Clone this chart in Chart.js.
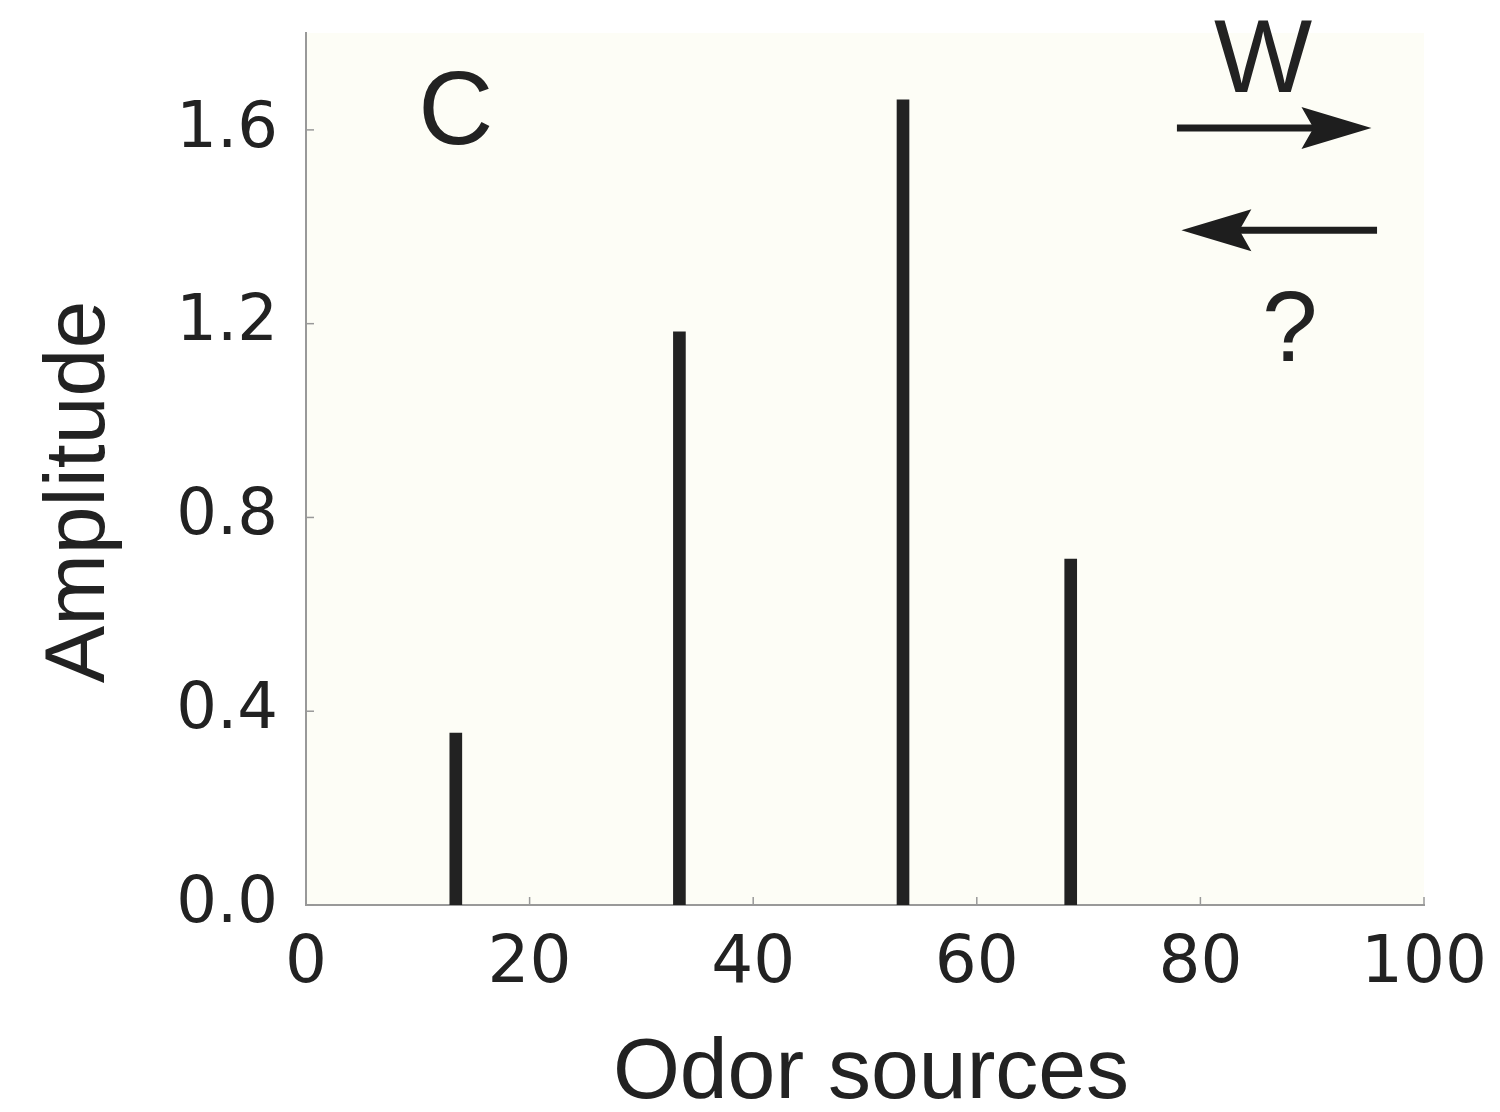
<!DOCTYPE html>
<html>
<head>
<meta charset="utf-8">
<script src="https://cdn.jsdelivr.net/npm/chart.js@4/dist/chart.umd.min.js"></script>
<style>
  html, body { margin: 0; padding: 0; background: #fff; }
  #wrap { width: 1500px; height: 1112px; position: relative; }
</style>
</head>
<body>
<div id="wrap"><canvas id="chart"></canvas></div>
<script>
// odor source positions and their amplitudes
const sources = [13.4, 33.4, 53.4, 68.4];
const amplitudes = [0.355, 1.183, 1.662, 0.714];
const xTicks = [0, 20, 40, 60, 80, 100];
const yTicks = [0, 0.4, 0.8, 1.2, 1.6];

const ink = "#222";
const sans = "'Liberation Sans', Arial, sans-serif";

function arrow(ctx, x0, x1, y, head) {
  // x1 is the tip
  const dir = Math.sign(x1 - x0);
  ctx.beginPath();
  ctx.moveTo(x0, y);
  ctx.lineTo(x1 - dir * 40, y);
  ctx.lineWidth = 7;
  ctx.stroke();
  ctx.beginPath();
  ctx.moveTo(x1, y);
  ctx.lineTo(x1 - dir * head, y - 21);
  ctx.lineTo(x1 - dir * (head - 12), y);
  ctx.lineTo(x1 - dir * head, y + 21);
  ctx.closePath();
  ctx.fill();
}

const decorations = {
  id: "decorations",
  beforeDraw(chart) {
    const { ctx, chartArea: a } = chart;
    ctx.save();
    ctx.fillStyle = "#fff";
    ctx.fillRect(0, 0, chart.width, chart.height);
    ctx.fillStyle = "#fdfdf6";
    ctx.fillRect(a.left, a.top, a.right - a.left, a.bottom - a.top);
    ctx.restore();
  },
  afterDraw(chart) {
    const { ctx, chartArea: a, scales } = chart;
    const xs = scales.x, ys = scales.y;
    ctx.save();

    // inward tick marks
    ctx.strokeStyle = "#999";
    ctx.lineWidth = 1.5;
    xTicks.forEach((v) => {
      const px = xs.getPixelForValue(v);
      ctx.beginPath();
      ctx.moveTo(px, a.bottom);
      ctx.lineTo(px, a.bottom - 8);
      ctx.stroke();
    });
    yTicks.forEach((v) => {
      const py = ys.getPixelForValue(v);
      ctx.beginPath();
      ctx.moveTo(a.left, py);
      ctx.lineTo(a.left + 8, py);
      ctx.stroke();
    });

    // axis titles
    ctx.fillStyle = ink;
    ctx.font = `86px ${sans}`;
    ctx.textAlign = "center";
    ctx.textBaseline = "alphabetic";
    ctx.fillText("Odor sources", 871, 1098);
    ctx.save();
    ctx.translate(104, 492);
    ctx.rotate(-Math.PI / 2);
    ctx.fillText("Amplitude", 0, 0);
    ctx.restore();

    // panel letter and annotation
    ctx.font = `104px ${sans}`;
    ctx.textBaseline = "middle";
    ctx.fillText("C", xs.getPixelForValue(13.4), ys.getPixelForValue(1.63));
    ctx.fillText("W", xs.getPixelForValue(85.6), ys.getPixelForValue(1.738));
    ctx.font = `100px ${sans}`;
    ctx.fillText("?", xs.getPixelForValue(88.0), ys.getPixelForValue(1.18));

    ctx.strokeStyle = "#1e1e1e";
    ctx.fillStyle = "#1e1e1e";
    arrow(ctx, xs.getPixelForValue(77.9), xs.getPixelForValue(95.3), ys.getPixelForValue(1.604), 70);
    arrow(ctx, xs.getPixelForValue(95.8), xs.getPixelForValue(78.3), ys.getPixelForValue(1.393), 70);
    ctx.restore();
  }
};

new Chart(document.getElementById("chart"), {
  type: "bar",
  data: {
    datasets: [{
      data: sources.map((s, i) => ({ x: s, y: amplitudes[i] })),
      backgroundColor: "#222",
      borderWidth: 0,
      barThickness: 12
    }]
  },
  options: {
    responsive: true,
    maintainAspectRatio: false,
    animation: false,
    layout: { padding: { left: 0, right: 76, top: 33, bottom: 0 } },
    plugins: { legend: { display: false }, tooltip: { enabled: false } },
    scales: {
      x: {
        type: "linear",
        min: 0,
        max: 100,
        offset: false,
        afterBuildTicks: (s) => { s.ticks = xTicks.map((v) => ({ value: v })); },
        afterFit: (s) => {
          s.height = 207;
          s.paddingLeft = 0;
          s.paddingRight = 0;
        },
        grid: { display: false, drawTicks: false, offset: false },
        border: { display: true, color: "#999", width: 2 },
        ticks: {
          padding: 20,
          maxRotation: 0,
          color: ink,
          font: { family: "'DejaVu Sans'", size: 66 },
          callback: (v) => String(v)
        }
      },
      y: {
        min: 0,
        max: 1.8,
        afterBuildTicks: (s) => { s.ticks = yTicks.map((v) => ({ value: v })); },
        afterFit: (s) => {
          s.width = 306;
          s.paddingTop = 0;
          s.paddingBottom = 0;
        },
        grid: { display: false, drawTicks: false },
        border: { display: true, color: "#999", width: 2 },
        ticks: {
          padding: 28,
          color: ink,
          font: { family: "'DejaVu Sans'", size: 64 },
          callback: (v) => Number(v).toFixed(1)
        }
      }
    }
  },
  plugins: [decorations]
});
</script>
</body>
</html>
